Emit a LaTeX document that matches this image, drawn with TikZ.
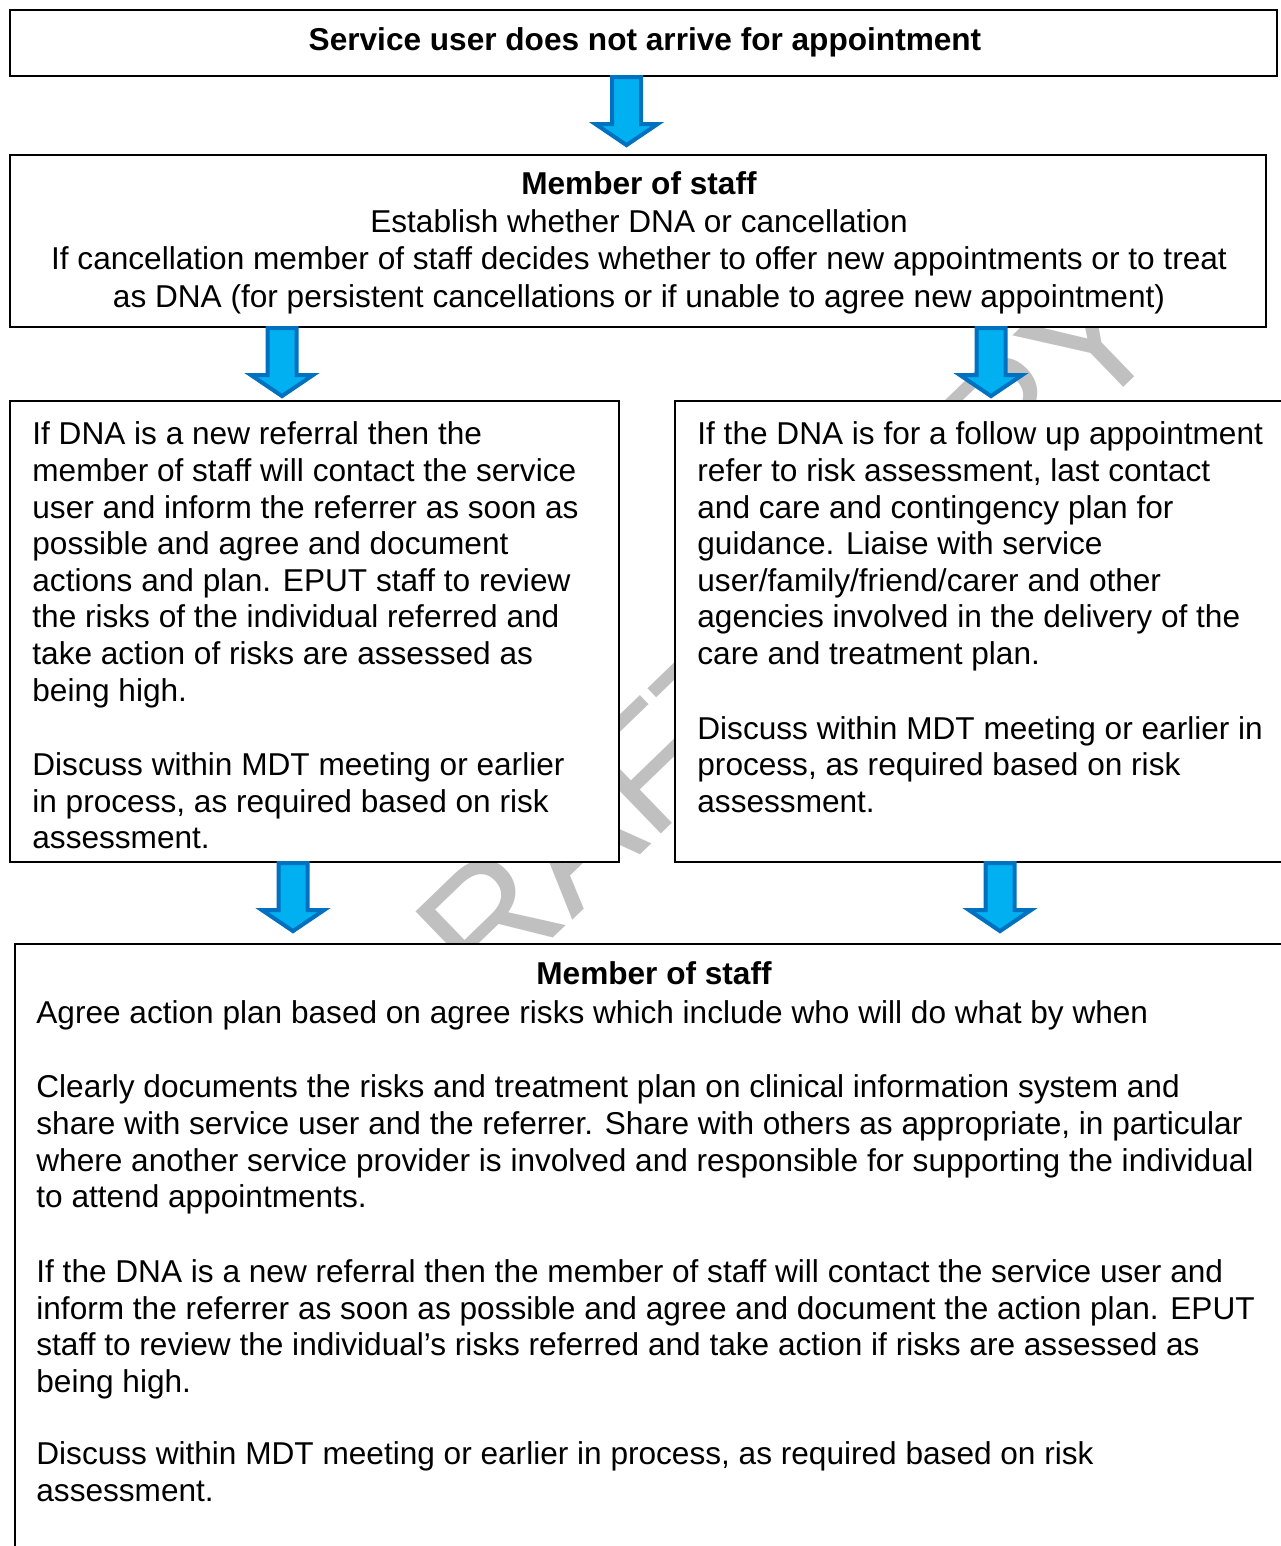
\documentclass[tikz,border=0pt]{standalone}
\usepackage{fontspec}
\setmainfont{Liberation Sans}
\usetikzlibrary{positioning,fit}

\definecolor{arrowfill}{HTML}{00B0F0}
\definecolor{arrowedge}{HTML}{0070C0}
\definecolor{wmgray}{HTML}{C0C0C0}

\tikzset{
  box/.style={draw, line width=1.1pt, fill=white, inner sep=0pt},
  txt/.style={align=left, inner sep=0pt, font=\fontsize{15.8}{18.3}\selectfont},
  ctxt/.style={txt, align=center},
  flowarrow/.style={draw=arrowedge, fill=arrowfill, line width=2pt, line join=miter},
  watermark/.style={text=wmgray, inner sep=0pt, font=\fontsize{83}{83}\selectfont}
}

\newcommand{\bluearrow}[1]{\draw[flowarrow] (#1) ++(-14.5,0) -- ++(29,0) -- ++(0,47) -- ++(16.5,0) -- ++(-31,21) -- ++(-31,-21) -- ++(16.5,0) -- cycle;}

\begin{document}
\begin{tikzpicture}[x=0.5pt, y=-0.5pt]
\useasboundingbox (0,0) rectangle (1280,1546);
% watermark, mostly hidden behind the boxes
\node[watermark, rotate=44, anchor=base] (wm) at (784.5,715.4) {DRAFT COPY};

% boxes
\node[box, fit={(10,10) (1277,76)}] (noshow) {};
\node[box, fit={(10,155) (1266,327)}] (staff) {};
\node[box, fit={(10,401) (619,862)}] (newref) {};
\node[box, fit={(675,401) (1300,862)}] (followup) {};
\node[box, fit={(15,944) (1300,1600)}] (plan) {};

% texts
\node[ctxt, font=\fontsize{15.8}{18.3}\selectfont\bfseries, anchor=base] (noshowtxt) at (645,51) {Service user does not arrive for appointment};
\node[ctxt, font=\fontsize{15.8}{18.8}\selectfont, anchor=north] (stafftxt) at (639,171.5) {\textbf{Member of staff}\\
Establish whether DNA or cancellation\\
If cancellation member of staff decides whether to offer new appointments or to treat\\
as DNA (for persistent cancellations or if unable to agree new appointment)};
\node[txt, anchor=north west] (newreftxt) at (32,421.5) {If DNA is a new referral then the\\
member of staff will contact the service\\
user and inform the referrer as soon as\\
possible and agree and document\\
actions and plan. EPUT staff to review\\
the risks of the individual referred and\\
take action of risks are assessed as\\
being high.\\[19pt]
Discuss within MDT meeting or earlier\\
in process, as required based on risk\\
assessment.};
\node[txt, anchor=north west] (followuptxt) at (697,421.5) {If the DNA is for a follow up appointment\\
refer to risk assessment, last contact\\
and care and contingency plan for\\
guidance. Liaise with service\\
user/family/friend/carer and other\\
agencies involved in the delivery of the\\
care and treatment plan.\\[19pt]
Discuss within MDT meeting or earlier in\\
process, as required based on risk\\
assessment.};
\node[ctxt, font=\fontsize{15.8}{18.3}\selectfont\bfseries, anchor=north] (planhead) at (654,961.5) {Member of staff};
\node[txt, anchor=north west] (plantxt) at (36,1000.5) {Agree action plan based on agree risks which include who will do what by when\\[18.7pt]
Clearly documents the risks and treatment plan on clinical information system and\\
share with service user and the referrer. Share with others as appropriate, in particular\\
where another service provider is involved and responsible for supporting the individual\\
to attend appointments.\\[19.2pt]
If the DNA is a new referral then the member of staff will contact the service user and\\
inform the referrer as soon as possible and agree and document the action plan. EPUT\\
staff to review the individual’s risks referred and take action if risks are assessed as\\
being high.\\[17.7pt]
Discuss within MDT meeting or earlier in process, as required based on risk\\
assessment.};

% arrows
\bluearrow{626.5,0 |- noshow.south}
\bluearrow{282,0 |- staff.south}
\bluearrow{991,0 |- staff.south}
\bluearrow{293,0 |- newref.south}
\bluearrow{1000,0 |- followup.south}
\end{tikzpicture}
\end{document}
